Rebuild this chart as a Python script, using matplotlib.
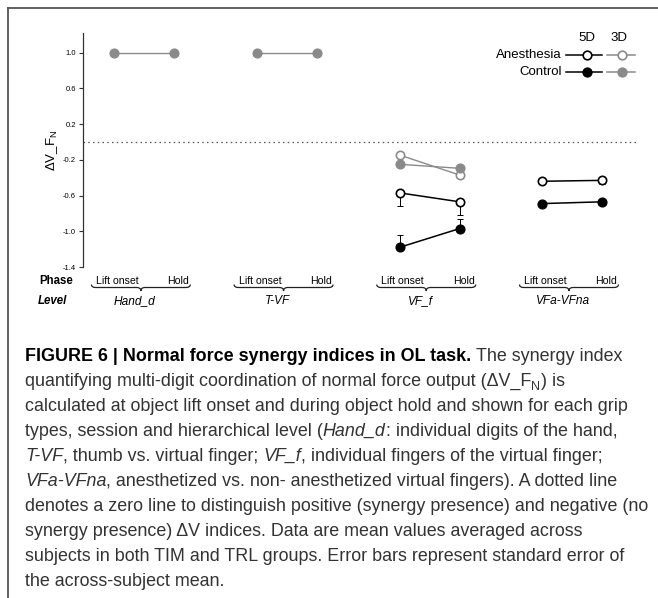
import matplotlib
matplotlib.use("Agg")
import matplotlib.pyplot as plt
import matplotlib.transforms as mtransforms
from matplotlib.path import Path
from matplotlib.patches import PathPatch
import numpy as np

plt.rcParams["font.family"] = ["Liberation Sans", "DejaVu Sans"]
plt.rcParams["mathtext.fontset"] = "custom"
plt.rcParams["mathtext.rm"] = "Liberation Sans"
plt.rcParams["mathtext.it"] = "Liberation Sans:italic"
plt.rcParams["mathtext.bf"] = "Liberation Sans:bold"

nan = np.nan

levels = ["Hand_d", "T-VF", "VF_f", "VFa-VFna"]
phases = ["Lift onset", "Hold"]

# synergy index per level: [lift onset, hold]
ctrl_5d = [[nan, nan], [nan, nan], [-1.18, -0.97], [-0.69, -0.67]]
anes_5d = [[nan, nan], [nan, nan], [-0.57, -0.67], [-0.44, -0.43]]
ctrl_3d = [[1.0, 1.0], [1.0, 1.0], [-0.25, -0.295], [nan, nan]]
anes_3d = [[nan, nan], [nan, nan], [-0.146, -0.37], [nan, nan]]

# one-sided standard errors (control drawn upward, anesthesia downward)
ctrl_5d_err = [[0, 0], [0, 0], [0.14, 0.11], [0, 0]]
anes_5d_err = [[0, 0], [0, 0], [0.15, 0.15], [0.03, 0.04]]

yticks = [1.0, 0.6, 0.2, -0.2, -0.6, -1.0, -1.4]

caption = [
    [("FIGURE 6 | Normal force synergy indices in OL task.", "bold"), (" The synergy index", "normal")],
    [("quantifying multi-digit coordination of normal force output (ΔV_F", "normal"), ("N", "sub"),
     (") is", "normal")],
    [("calculated at object lift onset and during object hold and shown for each grip", "normal")],
    [("types, session and hierarchical level (", "normal"), ("Hand_d", "italic"),
     (": individual digits of the hand,", "normal")],
    [("T-VF", "italic"), (", thumb vs. virtual finger; ", "normal"), ("VF_f", "italic"),
     (", individual fingers of the virtual finger;", "normal")],
    [("VFa-VFna", "italic"), (", anesthetized vs. non- anesthetized virtual fingers). A dotted line", "normal")],
    [("denotes a zero line to distinguish positive (synergy presence) and negative (no", "normal")],
    [("synergy presence) ΔV indices. Data are mean values averaged across", "normal")],
    [("subjects in both TIM and TRL groups. Error bars represent standard error of", "normal")],
    [("the across-subject mean.", "normal")],
]

W, H = 658, 598
fig = plt.figure(figsize=(W / 100, H / 100), dpi=100)
fig.patch.set_facecolor("white")


def fx(px):
    return px / W


def fy(py):
    return 1 - py / H


ax = fig.add_axes([fx(83), fy(267), fx(637) - fx(83), fy(33) - fy(267)])

gap = 2.38
xpos = [[i * gap, i * gap + 1] for i in range(len(levels))]

black = "black"
gray = "#8a8a8a"

ax.axhline(0, color="#555555", lw=0.9, ls=(0, (1.2, 2.6)), zorder=1)

for g in range(len(levels)):
    xs = xpos[g]
    ax.errorbar(xs, ctrl_5d[g], yerr=[[0, 0], ctrl_5d_err[g]], fmt="none",
                ecolor=black, elinewidth=0.7, capsize=2, capthick=0.7, zorder=2)
    ax.errorbar(xs, anes_5d[g], yerr=[anes_5d_err[g], [0, 0]], fmt="none",
                ecolor=black, elinewidth=0.7, capsize=2, capthick=0.7, zorder=2)
    ax.plot(xs, anes_3d[g], "-o", color=gray, lw=1.0, ms=6, mfc="white", mec=gray, mew=1.2, zorder=3)
    ax.plot(xs, ctrl_3d[g], "-o", color=gray, lw=1.0, ms=6.5, mfc=gray, mec=gray, mew=0.8, zorder=4)
    ax.plot(xs, anes_5d[g], "-o", color=black, lw=1.1, ms=6, mfc="white", mec=black, mew=1.2, zorder=5)
    ax.plot(xs, ctrl_5d[g], "-o", color=black, lw=1.1, ms=6.5, mfc=black, mec=black, mew=0.8, zorder=6)

ax.set_xlim(-0.52, 8.72)
ax.set_ylim(-1.4, 1.22)
ax.set_yticks(yticks)
ax.set_yticklabels([f"{v:.1f}" for v in yticks], fontsize=5.5)
ax.set_xticks([])
for side in ["top", "right", "bottom"]:
    ax.spines[side].set_visible(False)
ax.spines["left"].set_color("#333333")
ax.spines["left"].set_linewidth(0.9)
ax.tick_params(axis="y", length=3, width=0.8, color="#333333", pad=2)
ax.set_ylabel("ΔV_F$_\\mathregular{N}$", fontsize=9.5, labelpad=2)

# phase / level labels below the axis
blend = mtransforms.blended_transform_factory(ax.transData, fig.transFigure)
fig.text(fx(39), fy(281), "Phase", fontsize=8.3, fontweight="bold", va="center", ha="left")
fig.text(fx(38), fy(301), "Level", fontsize=8.3, fontweight="bold", style="italic", va="center", ha="left")

r = 0.07
yt, ym, ytip = fy(284.5), fy(287.5), fy(291)
for g, name in enumerate(levels):
    x0, x1 = xpos[g]
    fig.text(x0 + 0.05, fy(281), phases[0], fontsize=7.6, ha="center", va="center", transform=blend)
    fig.text(x1 + 0.07, fy(281), phases[1], fontsize=7.6, ha="center", va="center", transform=blend)
    bl, br = x0 - 0.38, x1 + 0.27
    bm = (bl + br) / 2
    verts = [(bl, yt), (bl, ym), (bl + r, ym), (bm - r, ym), (bm, ym), (bm, ytip),
             (bm, ym), (bm + r, ym), (br - r, ym), (br, ym), (br, yt)]
    codes = [Path.MOVETO, Path.CURVE3, Path.CURVE3, Path.LINETO, Path.CURVE3, Path.CURVE3,
             Path.CURVE3, Path.CURVE3, Path.LINETO, Path.CURVE3, Path.CURVE3]
    fig.add_artist(PathPatch(Path(verts, codes), transform=blend, fill=False,
                             edgecolor="#222222", lw=0.9))
    fig.text(bm - 0.1, fy(301), name, fontsize=8.6, style="italic", ha="center", va="center",
             transform=blend)

# legend
fig.text(fx(587), fy(38), "5D", fontsize=9.5, ha="center", va="center")
fig.text(fx(619), fy(38), "3D", fontsize=9.5, ha="center", va="center")
legend_rows = [("Anesthesia", 55, "white"), ("Control", 72, None)]
for label, py, face in legend_rows:
    fig.text(fx(562), fy(py), label, fontsize=9.5, ha="right", va="center")
    for cx, col, x_a, x_b in [(587, black, 566, 602), (622, gray, 607, 635)]:
        mfc = face if face else col
        fig.add_artist(plt.Line2D([fx(x_a), fx(x_b)], [fy(py), fy(py)], color=col, lw=1.1,
                                  transform=fig.transFigure))
        fig.add_artist(plt.Line2D([fx(cx)], [fy(py)], marker="o", ms=6.2, mfc=mfc, mec=col,
                                  mew=1.2, transform=fig.transFigure))

# frame lines
fig.add_artist(plt.Line2D([fx(8), 1], [fy(8), fy(8)], color="#555555", lw=1.3, transform=fig.transFigure))
fig.add_artist(plt.Line2D([fx(8), fx(8)], [fy(8), 0], color="#555555", lw=1.3, transform=fig.transFigure))

# caption with mixed styles
renderer = fig.canvas.get_renderer()
cap_size = 12.9


def style_kw(st):
    if st == "bold":
        return dict(fontsize=cap_size, fontweight="bold", color="black")
    if st == "italic":
        return dict(fontsize=cap_size, style="italic", color="#333333")
    if st == "sub":
        return dict(fontsize=cap_size * 0.7, color="#333333")
    return dict(fontsize=cap_size, color="#333333")


def text_width(s, st):
    t = fig.text(0, 0, s, **style_kw(st))
    w = t.get_window_extent(renderer).width
    t.remove()
    return w


space_w = text_width("a a", "normal") - text_width("aa", "normal")

for i, runs in enumerate(caption):
    x = 25.0
    y = 361 + i * 25.0
    for s, st in runs:
        lead = len(s) - len(s.lstrip(" "))
        trail = len(s) - len(s.rstrip(" "))
        core = s.strip(" ")
        x += lead * space_w
        dy = 3.5 if st == "sub" else 0
        fig.text(fx(x), fy(y + dy), core, va="baseline", ha="left", **style_kw(st))
        x += text_width(core, st) + trail * space_w + (0.5 if st == "sub" else 0)

fig.savefig("out.png", dpi=100)
